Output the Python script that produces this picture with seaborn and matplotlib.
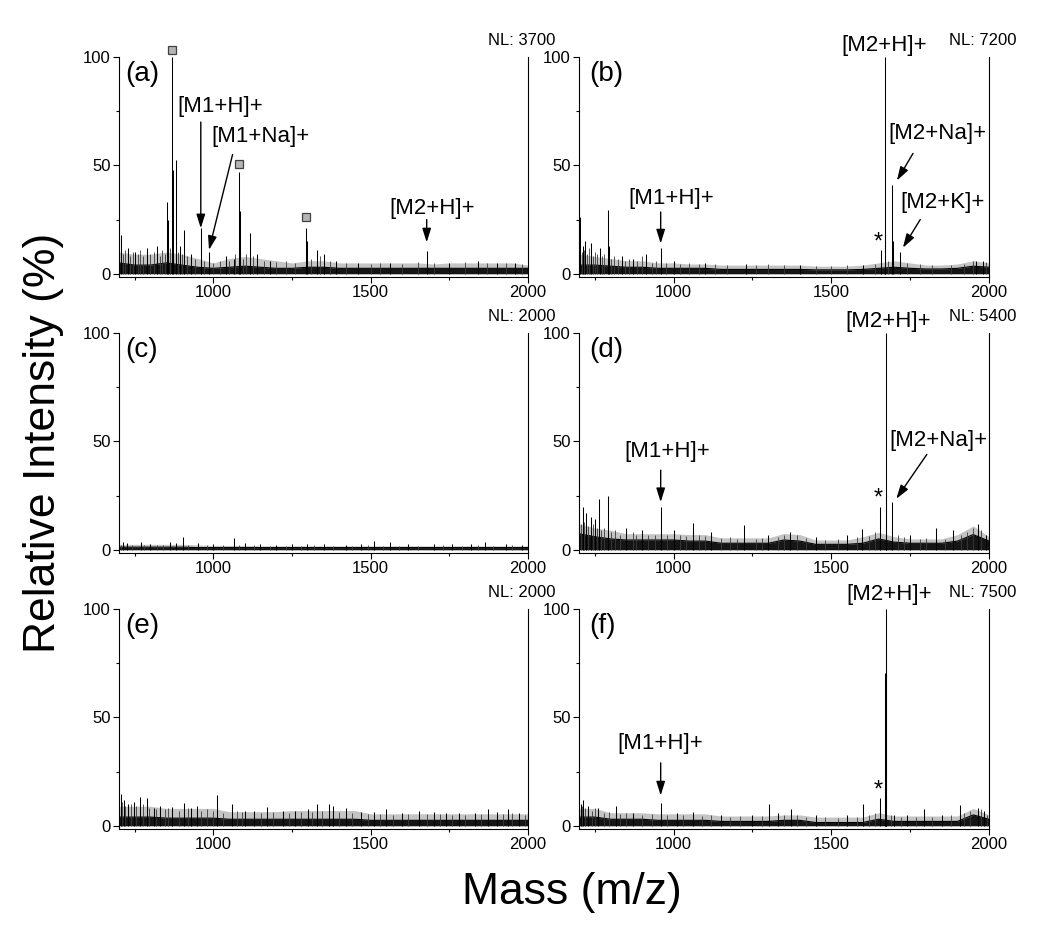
import matplotlib
matplotlib.use("Agg")
import matplotlib.pyplot as plt
import pandas as pd
import seaborn as sns

sns.set_theme(style="ticks")
plt.rcParams["font.family"] = ["Liberation Sans", "DejaVu Sans"]
plt.rcParams.update({"text.color": "black", "axes.labelcolor": "black",
                     "xtick.color": "black", "ytick.color": "black"})

# ---------------- data ----------------
band_mz = [700, 750, 800, 850, 900, 950, 1000, 1050, 1100, 1150, 1200, 1250, 1300, 1350,
           1400, 1450, 1500, 1550, 1600, 1650, 1700, 1750, 1800, 1850, 1900, 1950, 2000]

# dense noise band: solid core height and spiky halo height (% relative intensity)
a_core = [5, 4, 4, 5, 4, 3, 2.5, 3, 3.5, 3, 2.5, 2.5, 3, 3, 2.5, 2.5, 2.5, 2.5, 2.5, 2.5, 2.5, 2.5, 2.5, 2.5, 2.5, 2.5, 2.5]
a_halo = [10, 9, 9, 10, 9, 7, 5, 7, 8, 7, 6, 5, 6, 6, 5, 5, 5, 5, 5, 5, 4.5, 5, 5, 5, 5, 5, 4]
b_core = [4, 4, 3.5, 3, 3, 2.5, 2.5, 2.5, 2.5, 2, 2, 2, 2, 2, 2, 1.8, 1.8, 1.8, 2, 2.5, 3, 2.5, 2.2, 2.2, 2.5, 3.5, 3]
b_halo = [9, 8, 7, 6, 6, 5, 5, 4.5, 4.5, 4, 4, 4, 4, 4, 4, 3.5, 3.5, 3.5, 4, 5, 6, 5, 4, 4, 4.5, 6, 5]
c_core = [1.2, 1.2, 1.2, 1.2, 1.2, 1, 1, 1, 1, 1, 1, 1, 1, 1, 1, 1, 1, 1, 1, 1, 1, 1, 1, 1, 1, 1, 1]
c_halo = [2.5, 2.5, 2.5, 2.5, 2.5, 2.2, 2, 2, 2, 1.8, 1.8, 1.8, 1.8, 1.8, 1.8, 1.8, 1.8, 1.8, 1.8, 1.8, 1.8, 1.8, 1.8, 1.8, 1.8, 1.8, 1.8]
d_core = [7.4, 6, 5, 4.5, 4.5, 4.5, 4.5, 4, 4, 3, 3, 3, 3, 4.5, 4, 2.5, 2.5, 2.5, 3, 5, 3.5, 3, 3, 3, 4, 7, 4]
d_halo = [12, 10, 9, 7.4, 7.4, 7.4, 7.4, 7, 7, 5.5, 5.5, 5.5, 5.5, 7.5, 7, 4.5, 4.5, 4.5, 6, 8, 6, 5, 5, 5, 7, 11, 6]
e_core = [4, 4, 4, 3.5, 3.5, 3.5, 3.5, 3, 3, 3, 3, 3, 3, 3, 3, 3, 2.5, 2.5, 2.5, 2.5, 2.5, 2.5, 2.5, 2.5, 2.5, 2.5, 2.5]
e_halo = [9, 9, 9, 8, 8, 8, 8, 6.5, 6.5, 6.5, 6.5, 7, 7, 7, 7, 7, 5.5, 5.5, 5.5, 5.5, 5.5, 5.5, 5.5, 5.5, 5.5, 5.5, 5.5]
f_core = [4, 4, 3, 3, 3, 2.5, 2.5, 2.5, 2.5, 2, 2, 2, 2, 2.5, 2.5, 1.5, 1.5, 1.5, 1.5, 3, 2, 2, 2, 2, 2, 5, 3]
f_halo = [8, 8, 6, 6, 6, 5.5, 5.5, 5.5, 5.5, 4.5, 4.5, 4.5, 4.5, 5, 5, 4, 4, 4, 4, 6, 4.5, 4.5, 4.5, 4.5, 4.5, 8, 5]

# discrete peaks (m/z, % relative intensity)
a_mz = [705, 729, 752, 789, 822, 851, 856, 869, 872, 880, 894, 906, 930, 960, 986, 1040, 1064,
        1082, 1085, 1116, 1140, 1180, 1293, 1297, 1328, 1351, 1390, 1460, 1560, 1678, 1750, 1840, 1900, 1960]
a_int = [17.7, 12, 10, 12, 13, 33, 25, 100, 48, 52.5, 13, 20, 9, 21, 10, 8, 7,
         47, 29, 19, 9, 6, 21, 15, 11, 9, 6, 5, 5, 10.5, 5, 6, 5, 5]
b_mz = [704, 712, 720, 739, 765, 792, 794, 835, 870, 913, 959, 1000, 1100, 1230, 1400, 1600,
        1656, 1669, 1671, 1693, 1695, 1717, 1960, 1980]
b_int = [26, 13, 15, 14, 12, 29.6, 13, 8, 7, 9, 12, 6, 5, 4.5, 4, 4,
         10.8, 100, 20, 41, 15, 10, 6, 6]
c_mz = [713, 725, 769, 800, 862, 880, 904, 950, 1000, 1064, 1100, 1149, 1200, 1250, 1298, 1350,
        1420, 1470, 1511, 1562, 1620, 1700, 1760, 1820, 1862, 1931, 1980]
c_int = [3.5, 3, 3.5, 2.5, 3.5, 3, 6, 3, 2.5, 5.5, 3, 2.5, 2, 2.5, 2.5, 2.5,
         2, 2.5, 4, 3.5, 2.5, 2.5, 2.5, 2.5, 3.5, 2.5, 2]
d_mz = [712, 723, 737, 750, 762, 792, 850, 900, 959, 1000, 1061, 1120, 1223, 1300, 1370, 1450,
        1550, 1598, 1655, 1672, 1674, 1693, 1750, 1831, 1886, 1965, 1990]
d_int = [19.8, 17, 15, 14, 23.6, 24.7, 10, 9, 19.8, 9, 12.3, 8, 11.3, 7, 8, 6,
         7, 9.7, 19.8, 100, 26, 22, 7, 10, 9, 12, 7]
e_mz = [705, 715, 730, 747, 766, 789, 810, 830, 870, 906, 930, 947, 1011, 1059, 1100, 1130, 1170,
        1220, 1260, 1300, 1330, 1367, 1381, 1420, 1470, 1510, 1548, 1600, 1654, 1700, 1740, 1782,
        1830, 1872, 1900, 1936, 1970]
e_int = [14.7, 12, 10, 11, 13.4, 13, 8, 9, 8.5, 10.5, 8, 9, 14, 9.9, 7, 7, 8.5,
         7, 7, 7.5, 10, 10, 9, 8, 6.5, 6.5, 7.7, 6, 7, 6.5, 6, 6,
         6, 7.5, 6.5, 7.5, 6]
f_mz = [705, 713, 730, 760, 816, 870, 959, 1010, 1060, 1150, 1250, 1302, 1330, 1371, 1450, 1550,
        1599, 1655, 1670, 1671, 1672, 1673, 1700, 1740, 1794, 1850, 1907, 1965, 1984]
f_int = [10, 12, 9, 8, 9, 6, 10.5, 6, 6.5, 5, 5, 10, 6, 7.5, 5, 5,
         10, 13, 22, 70.5, 84, 100, 5, 5, 7.5, 5, 9.5, 8, 7]

# smaller noise spikes
a_nz_mz = [712, 718, 736, 744, 760, 768, 775, 800, 810, 830, 838, 845, 862, 887, 900, 915, 940,
           970, 1000, 1020, 1050, 1070, 1095, 1105, 1125, 1160, 1200, 1230, 1260, 1310, 1340,
           1370, 1420, 1500, 1530, 1600, 1650, 1700, 1800, 1870, 1930, 1980]
a_nz_int = [9, 11, 8, 10, 9, 11, 8, 9, 10, 8, 11, 9, 12, 10, 9, 8, 7,
            6, 5, 6, 6, 9, 7, 9, 8, 6, 5.5, 6, 5, 7, 8,
            6, 5, 4.5, 5, 4.5, 5.5, 5, 5.5, 5, 5, 4.5]
b_nz_mz = [708, 716, 726, 732, 745, 752, 758, 772, 780, 800, 812, 825, 845, 858, 885, 900, 930,
           945, 975, 1020, 1050, 1080, 1130, 1170, 1260, 1300, 1350, 1450, 1500, 1550, 1640,
           1680, 1740, 1780, 1820, 1880, 1920, 1950, 1990]
b_nz_int = [10, 11, 9, 12, 8, 10, 9, 8, 9, 7, 8, 7, 6, 7, 6, 8, 5,
            6, 5, 4.5, 5, 4.5, 4.5, 4, 4, 4.5, 4, 3.5, 3.5, 4, 4.5,
            6, 5, 4.5, 4, 4, 4.5, 6, 5.5]
c_nz_mz = [705, 740, 780, 820, 840, 920, 980, 1030, 1080, 1130, 1180, 1230, 1280, 1320, 1380,
           1440, 1490, 1540, 1590, 1650, 1730, 1790, 1840, 1890, 1950]
c_nz_int = [2, 2.2, 2, 2, 2.3, 2, 2, 2, 2, 2, 1.8, 1.8, 1.8, 2, 1.8,
            1.8, 2, 1.8, 1.8, 1.8, 2, 1.8, 2, 1.8, 2]
d_nz_mz = [705, 717, 730, 745, 756, 770, 780, 800, 815, 830, 870, 880, 920, 940, 980, 1020,
           1040, 1080, 1100, 1150, 1180, 1200, 1260, 1280, 1330, 1350, 1390, 1420, 1480, 1520,
           1580, 1620, 1640, 1710, 1730, 1780, 1800, 1860, 1910, 1930, 1950, 1975]
d_nz_int = [12, 13, 11, 12, 10, 9, 10, 8, 9, 7, 8, 7, 7, 7, 7, 7,
            6.5, 7, 6.5, 5.5, 6, 5, 5, 5.5, 6, 7, 7, 5.5, 4.5, 5,
            6, 6.5, 8, 7, 6, 5, 5.5, 5, 7, 8, 10, 9]
e_nz_mz = [710, 720, 737, 755, 775, 795, 818, 845, 855, 890, 918, 960, 980, 1000, 1030, 1075,
           1090, 1150, 1190, 1240, 1280, 1315, 1345, 1400, 1440, 1490, 1530, 1570, 1620, 1680,
           1720, 1760, 1800, 1850, 1920, 1950, 1990]
e_nz_int = [11, 9, 10, 9, 10, 8, 7.5, 7.5, 8, 7, 8, 7, 7.5, 7, 6, 7,
            6.5, 6, 6.5, 6, 6.5, 6.5, 7, 6.5, 6, 5.5, 5.5, 5, 5.5, 5.5,
            5.5, 5, 5, 5.5, 5.5, 6, 5]
f_nz_mz = [710, 720, 740, 750, 780, 795, 830, 850, 900, 930, 980, 1030, 1090, 1120, 1180, 1210,
           1280, 1350, 1390, 1420, 1480, 1520, 1580, 1620, 1640, 1690, 1720, 1770, 1820, 1880,
           1920, 1940, 1975, 1995]
f_nz_int = [9, 8, 7, 8, 6, 6.5, 5.5, 6, 5, 5.5, 5, 5, 4.5, 5, 4, 4.5,
            4.5, 5, 5, 4, 4, 3.5, 4, 5, 6, 5, 4, 4, 4, 5,
            6, 7, 7.5, 5]

panel_tags = ["(a)", "(b)", "(c)", "(d)", "(e)", "(f)"]
nl_labels = ["NL: 3700", "NL: 7200", "NL: 2000", "NL: 5400", "NL: 2000", "NL: 7500"]

# marked (grey square) peaks in panel (a)
a_square_mz = [869, 1082, 1293]
a_square_y = [103, 50.6, 26]

# annotations: (label, text x, text y, arrow tail, arrow tip)
annots = {
    0: [("[M1+H]+", 1021, 77, (960, 70), (960, 21)),
        ("[M1+Na]+", 1149, 63.3, (1061, 55), (986, 11)),
        ("[M2+H]+", 1697, 30, (1678, 25), (1678, 14.5))],
    1: [("[M2+H]+", 1667, 105.5, None, None),
        ("[M2+Na]+", 1838, 64.5, (1759, 55.5), (1708, 43)),
        ("[M2+K]+", 1854, 33, (1782, 25), (1727, 12)),
        ("[M1+H]+", 993, 34.7, (959, 28.5), (959, 14))],
    2: [],
    3: [("[M2+H]+", 1680, 105.5, None, None),
        ("[M2+Na]+", 1840, 50.6, (1803, 44), (1706, 23.5)),
        ("[M1+H]+", 979, 45.2, (959, 36.7), (959, 22))],
    4: [],
    5: [("[M2+H]+", 1685, 106.5, None, None),
        ("[M1+H]+", 959, 38, (959, 29), (959, 14))],
}
stars = {1: (1650, 14.5), 3: (1648, 23.4), 5: (1648, 16.4)}

cores = [a_core, b_core, c_core, d_core, e_core, f_core]
halos = [a_halo, b_halo, c_halo, d_halo, e_halo, f_halo]
peaks_mz = [a_mz, b_mz, c_mz, d_mz, e_mz, f_mz]
peaks_int = [a_int, b_int, c_int, d_int, e_int, f_int]
noise_mz = [a_nz_mz, b_nz_mz, c_nz_mz, d_nz_mz, e_nz_mz, f_nz_mz]
noise_int = [a_nz_int, b_nz_int, c_nz_int, d_nz_int, e_nz_int, f_nz_int]

# ---------------- figure ----------------
W, H = 1050, 927
fig = plt.figure(figsize=(W / 100, H / 100), dpi=100)

col_left = [119, 579]
col_w = [409, 410]
row_top = [57, 333, 609]
ax_h = 220

for i in range(6):
    r, c = divmod(i, 2)
    ax = fig.add_axes([col_left[c] / W, 1 - (row_top[r] + ax_h) / H, col_w[c] / W, ax_h / H])
    df = pd.DataFrame({"mz": band_mz, "core": cores[i], "halo": halos[i]})
    ax.fill_between(df["mz"], 0, df["halo"], color="#c4c4c4", lw=0)
    ax.fill_between(df["mz"], 0, df["core"], color="#151515", lw=0)
    sns.lineplot(data=df, x="mz", y="core", ax=ax, color="black", lw=0.8,
                 estimator=None, legend=False)
    ax.vlines(noise_mz[i], 0, noise_int[i], color="#3a3a3a", lw=0.6)
    ax.vlines(peaks_mz[i], 0, peaks_int[i], color="black", lw=0.75)

    ax.set_xlim(700, 2000)
    ax.set_ylim(-1.5, 100)
    ax.set_xticks([1000, 1500, 2000])
    ax.set_xticks([750, 1250, 1750], minor=True)
    ax.set_yticks([0, 50, 100])
    ax.set_yticks([25, 75], minor=True)
    ax.tick_params(axis="both", which="major", direction="out", length=4, width=0.8,
                   labelsize=12, colors="black", pad=2)
    ax.tick_params(axis="both", which="minor", direction="out", length=2.5, width=0.8)
    ax.set_xlabel("")
    ax.set_ylabel("")
    ax.spines["top"].set_visible(False)
    for s in ["left", "right", "bottom"]:
        ax.spines[s].set_visible(True)
        ax.spines[s].set_linewidth(0.8)
        ax.spines[s].set_color("black")

    ax.text(720 if c == 0 else 731, 92, panel_tags[i], fontsize=20, ha="left", va="center")
    ax.text(1981, 107.5, nl_labels[i], fontsize=12, ha="center", va="center", clip_on=False)

    for lab, tx, ty, tail, tip in annots[i]:
        ax.text(tx, ty, lab, fontsize=16, ha="center", va="center", clip_on=False)
        if tail is not None:
            ax.annotate("", xy=tip, xytext=tail,
                        arrowprops=dict(arrowstyle="-|>,head_length=0.7,head_width=0.22",
                                        color="black", lw=1.0, shrinkA=0, shrinkB=0,
                                        mutation_scale=12))
    if i in stars:
        sx, sy = stars[i]
        ax.text(sx, sy, "*", fontsize=17, ha="center", va="center")

    if i == 0:
        ax.plot(a_square_mz, a_square_y, "s", ms=6, mfc="#b4b4b4", mec="#404040",
                mew=0.9, clip_on=False, zorder=5)

fig.text(0.041, 0.522, "Relative Intensity (%)", rotation=90, fontsize=32,
         ha="center", va="center")
fig.text(0.545, 0.037, "Mass (m/z)", fontsize=32, ha="center", va="center")

fig.savefig("out.png", dpi=100)
